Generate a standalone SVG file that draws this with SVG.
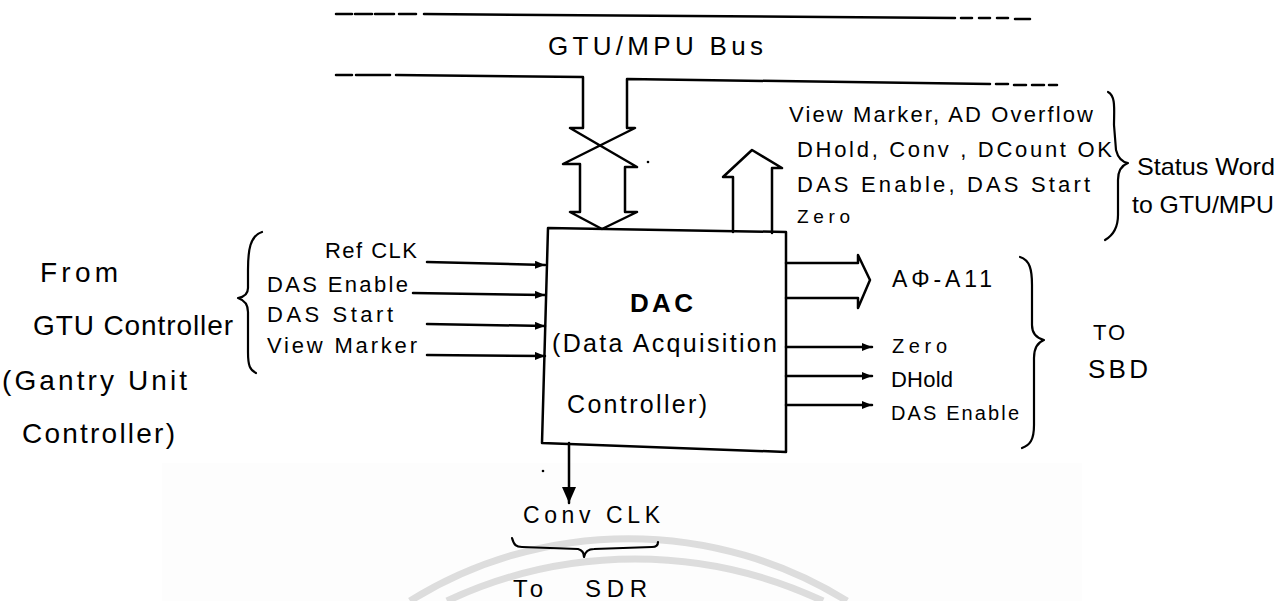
<svg xmlns="http://www.w3.org/2000/svg" width="1278" height="601" viewBox="0 0 1278 601">
<style>
.ln{stroke:#000;stroke-width:2.5;fill:none;stroke-linecap:round;stroke-linejoin:round}
.br{stroke:#000;stroke-width:2.2;fill:none;stroke-linecap:round;stroke-linejoin:round}
.t{font-family:"Liberation Sans",Arial,sans-serif;fill:#000}
.wm{stroke:#dddddd;stroke-width:7;fill:none}
</style>
<defs>
<marker id="ah" viewBox="0 0 10 8" refX="10" refY="4" markerWidth="10" markerHeight="8" markerUnits="userSpaceOnUse" orient="auto">
<path d="M0 0 L10 4 L0 8 Z" fill="#000"/>
</marker>
<marker id="ahb" viewBox="0 0 16 14" refX="16" refY="7" markerWidth="16" markerHeight="14" markerUnits="userSpaceOnUse" orient="auto">
<path d="M0 0 L16 7 L0 14 Z" fill="#000"/>
</marker>
</defs>
<rect width="1278" height="601" fill="#fff"/>
<g id="background">
<rect x="162" y="463" width="920" height="138" fill="#fdfdfd"/>
<path class="wm" d="M410 601 A414 414 0 0 1 847 601"/>
<path class="wm" d="M447 601 A442 442 0 0 1 823 601"/>
</g>
<g id="bus">
<path class="ln" d="M336 14 L352 14 M355 14 L372 14 M375 14 L394 14 M399 14 L416 14 M424 14 L955 18 M961 18 L972 18 M979 18 L990 18 M997 18 L1008 18 M1015 19 L1030 19"/>
<text class="t" x="548" y="55" font-size="26" textLength="215">GTU/MPU Bus</text>
</g>
<g id="dac">
<polygon class="ln" points="548,228 786,232 786,452 542,443" fill="#fff"/>
<text class="t" x="630" y="312" font-size="26" font-weight="bold" textLength="63">DAC</text>
<text class="t" x="552" y="352" font-size="25" textLength="225">(Data Acquisition</text>
<text class="t" x="567" y="413" font-size="25" textLength="140">Controller)</text>
</g>
<g id="connectors">
<path class="ln" d="M336 75 L352 75 M356 75 L390 75 M396 75 L583 77 L583 128 L570 128 L637 167 L625 167 L625 212 L637 212 L602 229 L570 212 L580 212 L580 164 L563 164 L635 128 L627 128 L627 79 L990 84 M996 84 L1008 84 M1014 85 L1026 85 M1032 85 L1044 85 M1049 85 L1057 85"/>
<path class="ln" d="M733 232 L733 177 L723 177 L752 150 L782 168 L772 168 L772 233"/>
<path class="ln" d="M786 263 L858 263 L858 255 L870 280 L858 308 L858 298 L786 298"/>
<path class="ln" d="M427 262 L545 265" marker-end="url(#ah)"/>
<path class="ln" d="M413 293 L545 295" marker-end="url(#ah)"/>
<path class="ln" d="M427 324 L545 326" marker-end="url(#ah)"/>
<path class="ln" d="M427 355 L545 356" marker-end="url(#ah)"/>
<path class="ln" d="M786 347 L872 347" marker-end="url(#ah)"/>
<path class="ln" d="M786 376 L872 376" marker-end="url(#ah)"/>
<path class="ln" d="M786 405 L872 405" marker-end="url(#ah)"/>
<path class="ln" d="M569 443 L569 503" marker-end="url(#ahb)"/>
<circle cx="543" cy="471" r="1.3" fill="#000"/>
<circle cx="648" cy="162" r="1.3" fill="#000"/>
</g>
<g id="source">
<text class="t" x="40" y="282" font-size="28" textLength="78">From</text>
<text class="t" x="33" y="335" font-size="28" textLength="200">GTU Controller</text>
<text class="t" x="2" y="390" font-size="28" textLength="185">(Gantry Unit</text>
<text class="t" x="22" y="443" font-size="28" textLength="153">Controller)</text>
<path class="br" d="M262 232 C250 236 248 250 248 270 L248 288 C248 294 244 297 238 298 C244 300 248 304 248 312 L248 352 C248 366 250 370 256 373"/>
</g>
<g id="inputs">
<text class="t" x="325" y="258" font-size="22" textLength="92">Ref CLK</text>
<text class="t" x="267" y="292" font-size="22" textLength="141">DAS Enable</text>
<text class="t" x="267" y="322" font-size="22" textLength="126">DAS Start</text>
<text class="t" x="267" y="353" font-size="22" textLength="150">View Marker</text>
</g>
<g id="status">
<text class="t" x="789" y="122" font-size="22" textLength="304">View Marker, AD Overflow</text>
<text class="t" x="797" y="157" font-size="22" textLength="315">DHold, Conv , DCount OK</text>
<text class="t" x="797" y="192" font-size="22" textLength="293">DAS Enable, DAS Start</text>
<text class="t" x="797" y="223" font-size="19" textLength="53">Zero</text>
<path class="br" d="M1108 92 C1116 96 1114 110 1114 125 L1116 150 C1118 158 1122 162 1128 163 C1120 166 1118 172 1118 180 L1118 215 C1118 228 1112 236 1105 240"/>
<text class="t" x="1137" y="175" font-size="24" textLength="138" lengthAdjust="spacingAndGlyphs">Status Word</text>
<text class="t" x="1132" y="213" font-size="24" textLength="142" lengthAdjust="spacingAndGlyphs">to GTU/MPU</text>
</g>
<g id="outputs">
<text class="t" x="892" y="287" font-size="23" textLength="100">AΦ-A11</text>
<text class="t" x="892" y="353" font-size="20" textLength="55">Zero</text>
<text class="t" x="891" y="387" font-size="22" textLength="62">DHold</text>
<text class="t" x="891" y="420" font-size="20" textLength="128">DAS Enable</text>
<path class="br" d="M1020 257 C1030 260 1032 270 1032 285 L1032 325 C1032 333 1036 338 1044 340 C1036 343 1034 350 1034 358 L1034 425 C1034 440 1030 445 1022 448"/>
<text class="t" x="1093" y="340" font-size="22" textLength="32">TO</text>
<text class="t" x="1088" y="378" font-size="26" textLength="60">SBD</text>
</g>
<g id="sdr">
<text class="t" x="523" y="523" font-size="23" textLength="137">Conv CLK</text>
<path class="br" d="M512 538 C514 545 516 547 522 547 L578 549 C582 550 584 553 584 557 C585 552 588 549 594 549 L652 547 C656 547 658 545 658 542"/>
<text class="t" x="513" y="597" font-size="24" textLength="30">To</text>
<text class="t" x="585" y="597" font-size="24" textLength="62">SDR</text>
</g>
</svg>
